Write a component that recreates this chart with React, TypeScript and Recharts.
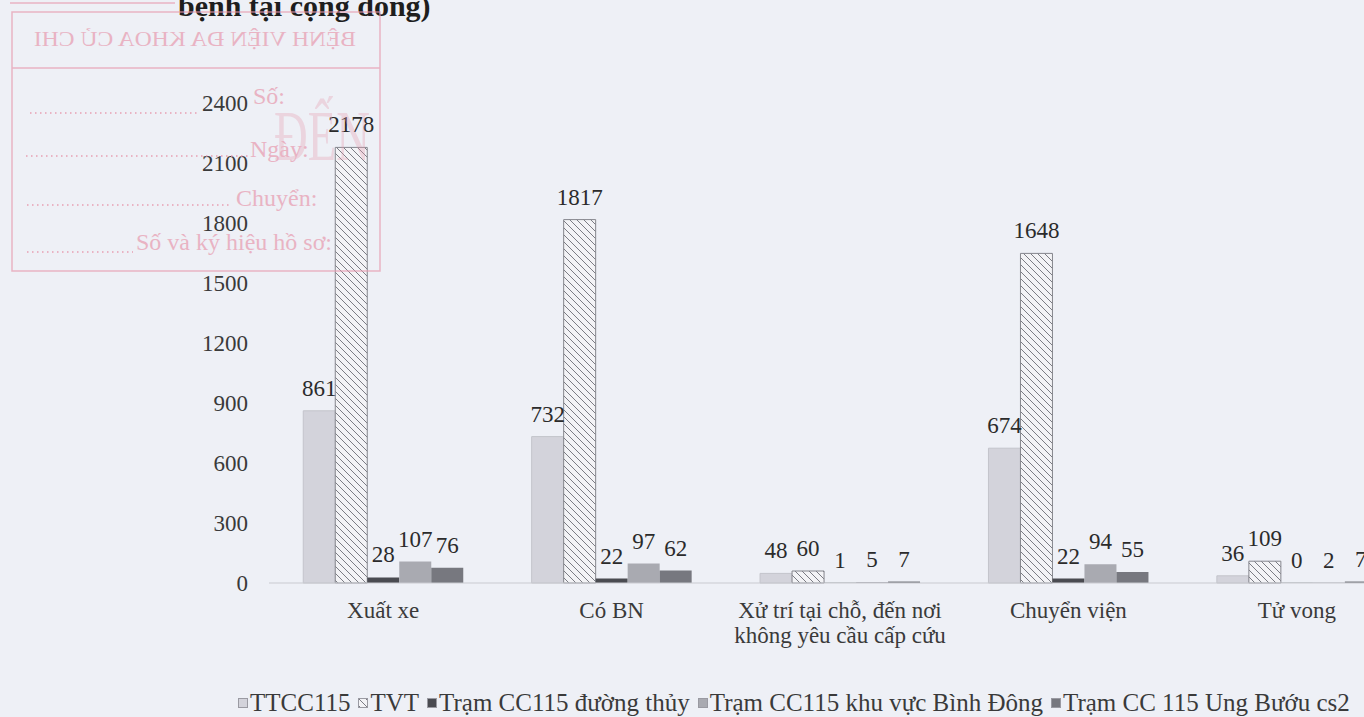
import React from 'react';
import { BarChart, Bar, XAxis, YAxis, LabelList, Legend } from 'recharts';

const categories = [
  'Xuất xe',
  'Có BN',
  'Xử trí tại chỗ, đến nơi\nkhông yêu cầu cấp cứu',
  'Chuyển viện',
  'Tử vong',
];
const seriesNames = [
  'TTCC115',
  'TVT',
  'Trạm CC115 đường thủy',
  'Trạm CC115 khu vực Bình Đông',
  'Trạm CC 115 Ung Bướu cs2',
];
const ttcc115 = [861, 732, 48, 674, 36];
const tvt = [2178, 1817, 60, 1648, 109];
const duongThuy = [28, 22, 1, 22, 0];
const binhDong = [107, 97, 5, 94, 2];
const ungBuou = [76, 62, 7, 55, 7];
const yTicks = [0, 300, 600, 900, 1200, 1500, 1800, 2100, 2400];
const titleFragment = 'bệnh tại cộng đồng)';

const seriesValues = [ttcc115, tvt, duongThuy, binhDong, ungBuou];
const keys = ['s0', 's1', 's2', 's3', 's4'];
const fills = ['#d3d3db', 'url(#tvtHatch)', '#4a4b51', '#a9aab1', '#77787f'];
const strokes = ['#c3c4cb', '#85868d', 'none', 'none', 'none'];

const data = categories.map((name, i) => {
  const row: Record<string, string | number> = { name };
  keys.forEach((k, j) => {
    row[k] = seriesValues[j][i];
  });
  return row;
});

const FONT = '"Liberation Serif", "Times New Roman", "DejaVu Serif", serif';

const CategoryTick = (props: any) => {
  const { x, y, payload } = props;
  const lines = String(payload.value).split('\n');
  return (
    <text x={x} y={y} textAnchor="middle" fill="#3a3a3a" fontSize={23}>
      {lines.map((l, i) => (
        <tspan key={i} x={x} dy={i === 0 ? 27 : 25}>
          {l}
        </tspan>
      ))}
    </text>
  );
};

const ValueLabel = (props: any) => {
  const { x, y, width, height, value } = props;
  if (value === undefined || value === null) return null;
  const top = Math.min(Number(y), Number(y) + Number(height || 0));
  return (
    <text
      x={Number(x) + Number(width) / 2}
      y={top - 15}
      textAnchor="middle"
      fill="#2b2b2b"
      fontSize={23}
    >
      {value}
    </text>
  );
};

const renderLegend = () => (
  <div
    style={{
      display: 'flex',
      alignItems: 'center',
      whiteSpace: 'nowrap',
      fontSize: 25,
      color: '#3a3a3a',
      fontFamily: FONT,
    }}
  >
    {seriesNames.map((n, i) => (
      <span
        key={n}
        style={{ display: 'inline-flex', alignItems: 'center', marginRight: 8 }}
      >
        <svg width={10} height={10} style={{ marginRight: 2 }}>
          <rect
            x={0.5}
            y={0.5}
            width={9}
            height={9}
            fill={fills[i]}
            stroke="#9a9aa2"
            strokeWidth={1}
          />
        </svg>
        {n}
      </span>
    ))}
  </div>
);

const pink = '#e79aae';

const Stamp = () => (
  <svg
    width={1364}
    height={717}
    style={{ position: 'absolute', left: 0, top: 0, pointerEvents: 'none' }}
  >
    <g opacity={0.7} fill={pink} stroke="none" fontFamily={FONT}>
      <line x1={10} y1={3} x2={175} y2={3} stroke={pink} strokeWidth={1.5} />
      <rect x={12} y={12} width={368} height={259} fill="none" stroke={pink} strokeWidth={1.5} />
      <line x1={12} y1={68} x2={380} y2={68} stroke={pink} strokeWidth={1.5} />
      <text
        x={195}
        y={46}
        fontSize={22}
        textAnchor="middle"
        textLength={322}
        lengthAdjust="spacingAndGlyphs"
        transform="translate(390,0) scale(-1,1)"
      >
        BỆNH VIỆN ĐA KHOA CỦ CHI
      </text>
      <text x={274} y={160} fontSize={72} opacity={0.45} textLength={96} lengthAdjust="spacingAndGlyphs">
        ĐẾN
      </text>
      <text x={253} y={104} fontSize={24}>Số:</text>
      <text x={250} y={157} fontSize={24}>Ngày:</text>
      <text x={236} y={206} fontSize={24}>Chuyển:</text>
      <text x={136} y={250} fontSize={24}>Số và ký hiệu hồ sơ:</text>
      <line x1={30} y1={113} x2={200} y2={113} stroke={pink} strokeWidth={2} strokeDasharray="1.5 3.5" />
      <line x1={26} y1={156} x2={248} y2={156} stroke={pink} strokeWidth={2} strokeDasharray="1.5 3.5" />
      <line x1={27} y1={205} x2={232} y2={205} stroke={pink} strokeWidth={2} strokeDasharray="1.5 3.5" />
      <line x1={27} y1={252} x2={133} y2={252} stroke={pink} strokeWidth={2} strokeDasharray="1.5 3.5" />
    </g>
  </svg>
);

export default function App() {
  return (
    <div
      style={{
        position: 'fixed',
        left: 0,
        top: 0,
        width: 1364,
        height: 717,
        overflow: 'hidden',
        background: '#eef0f6',
        fontFamily: FONT,
      }}
    >
      <svg width={0} height={0} style={{ position: 'absolute' }}>
        <defs>
          <pattern id="tvtHatch" patternUnits="userSpaceOnUse" width={7} height={7}>
            <rect x={0} y={0} width={7} height={7} fill="#f3f3f6" />
            <path d="M0,0 L7,7 M-1,6 L1,8 M6,-1 L8,1" stroke="#7b7c84" strokeWidth={1} />
          </pattern>
        </defs>
      </svg>
      <div
        style={{
          position: 'absolute',
          left: 178,
          top: -9,
          fontSize: 30,
          fontWeight: 'bold',
          color: '#1e1e1e',
          whiteSpace: 'nowrap',
          lineHeight: '30px',
        }}
      >
        {titleFragment}
      </div>
      <div style={{ position: 'absolute', left: 0, top: 0 }}>
        <BarChart
          width={1411}
          height={717}
          data={data}
          margin={{ top: 103, right: 0, bottom: 64, left: 0 }}
          barCategoryGap="15%"
          barGap={0}
        >
          <XAxis
            dataKey="name"
            interval={0}
            tickLine={false}
            axisLine={{ stroke: '#c9cad0', strokeWidth: 1 }}
            height={70}
            tick={<CategoryTick />}
          />
          <YAxis
            width={269}
            domain={[0, 2400]}
            ticks={yTicks}
            interval={0}
            axisLine={false}
            tickLine={false}
            tickMargin={15}
            tick={{ fontSize: 23, fill: '#3a3a3a' }}
          />
          <Legend
            layout="horizontal"
            verticalAlign="middle"
            align="center"
            content={renderLegend}
            wrapperStyle={{ top: 689, left: 238, width: 1200, height: 28 }}
          />
          {keys.map((k, j) => (
            <Bar
              key={k}
              dataKey={k}
              name={seriesNames[j]}
              fill={fills[j]}
              stroke={strokes[j]}
              strokeWidth={1}
              minPointSize={0.3}
              isAnimationActive={false}
            >
              <LabelList dataKey={k} content={<ValueLabel />} />
            </Bar>
          ))}
        </BarChart>
      </div>
      <Stamp />
    </div>
  );
}
